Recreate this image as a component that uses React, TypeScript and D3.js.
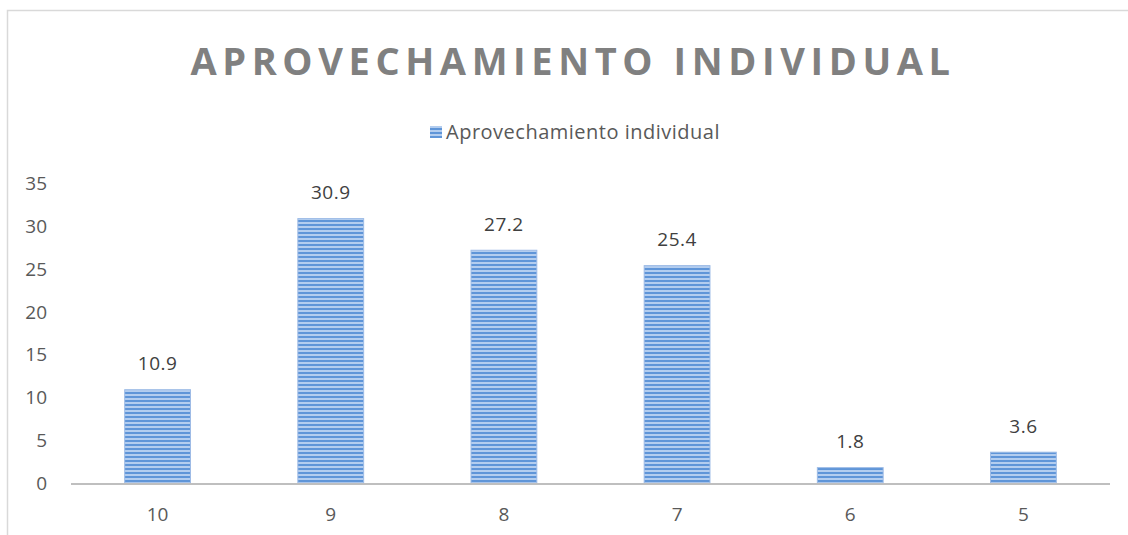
import { useEffect, useRef } from 'react';
import * as d3 from 'd3';

const categories = ['10', '9', '8', '7', '6', '5'];
const values = [10.9, 30.9, 27.2, 25.4, 1.8, 3.6];
const yTicks = [0, 5, 10, 15, 20, 25, 30, 35];
const seriesName = 'Aprovechamiento individual';
const chartTitle = 'APROVECHAMIENTO INDIVIDUAL';

export default function App() {
  const svgRef = useRef<SVGSVGElement>(null);
  const width = 1128;
  const height = 535;

  useEffect(() => {
    document.body.style.overflow = 'hidden';
    document.body.style.margin = '0';
    if (!svgRef.current) return;
    const svg = d3.select(svgRef.current);
    svg.selectAll('*').remove();

    const font = '"Open Sans", Calibri, sans-serif';

    // stripe pattern for bars
    const defs = svg.append('defs');
    const pat = defs.append('pattern')
      .attr('id', 'stripes')
      .attr('patternUnits', 'userSpaceOnUse')
      .attr('width', 8)
      .attr('height', 4);
    pat.append('rect').attr('width', 8).attr('height', 4).attr('fill', '#b3cdef');
    pat.append('rect').attr('y', 0).attr('width', 8).attr('height', 2).attr('fill', '#5f95d8');

    // outer frame
    svg.append('rect')
      .attr('x', 7.5)
      .attr('y', 10.5)
      .attr('width', 1140)
      .attr('height', 540)
      .attr('fill', 'white')
      .attr('stroke', '#d9d9d9')
      .attr('stroke-width', 1.5);

    const x = d3.scaleBand()
      .domain(categories)
      .range([71, 1110])
      .paddingInner(0.62)
      .paddingOuter(0.31);

    const y = d3.scaleLinear()
      .domain([0, 35])
      .range([483, 183.5]);

    // title
    svg.append('text')
      .attr('x', 573)
      .attr('y', 75)
      .attr('text-anchor', 'middle')
      .style('font-family', font)
      .style('font-size', '38px')
      .style('font-weight', 'bold')
      .style('letter-spacing', '5.6px')
      .style('fill', '#808080')
      .text(chartTitle);

    // legend
    svg.append('rect')
      .attr('x', 430)
      .attr('y', 126)
      .attr('width', 12)
      .attr('height', 12)
      .attr('fill', 'url(#stripes)');
    svg.append('text')
      .attr('x', 446)
      .attr('y', 132)
      .attr('dy', '0.35em')
      .style('font-family', font)
      .style('font-size', '20px')
      .style('letter-spacing', '0.5px')
      .style('fill', '#595959')
      .text(seriesName);

    // y axis labels
    svg.append('g')
      .selectAll('text')
      .data(yTicks)
      .enter().append('text')
      .attr('x', 47)
      .attr('y', d => y(d))
      .attr('dy', '0.35em')
      .attr('text-anchor', 'end')
      .style('font-family', font)
      .style('font-size', '19px')
      .style('fill', '#595959')
      .text(d => d);

    const data = categories.map((c, i) => ({ c, v: values[i] }));

    // bars
    svg.append('g')
      .selectAll('rect')
      .data(data)
      .enter().append('rect')
      .attr('x', d => x(d.c)!)
      .attr('y', d => y(d.v))
      .attr('width', x.bandwidth())
      .attr('height', d => y(0) - y(d.v))
      .attr('fill', 'url(#stripes)')
      .attr('stroke', '#9dbbe6')
      .attr('stroke-width', 1);

    // value labels
    svg.append('g')
      .selectAll('text')
      .data(data)
      .enter().append('text')
      .attr('x', d => x(d.c)! + x.bandwidth() / 2)
      .attr('y', d => y(d.v) - 26)
      .attr('dy', '0.35em')
      .attr('text-anchor', 'middle')
      .style('font-family', font)
      .style('font-size', '19px')
      .style('letter-spacing', '0.5px')
      .style('fill', '#404040')
      .text(d => d.v.toFixed(1));

    // x axis line
    svg.append('line')
      .attr('x1', 71)
      .attr('x2', 1110)
      .attr('y1', y(0) + 1)
      .attr('y2', y(0) + 1)
      .attr('stroke', '#bfbfbf')
      .attr('stroke-width', 2);

    // x labels
    svg.append('g')
      .selectAll('text')
      .data(categories)
      .enter().append('text')
      .attr('x', d => x(d)! + x.bandwidth() / 2)
      .attr('y', 514)
      .attr('dy', '0.35em')
      .attr('text-anchor', 'middle')
      .style('font-family', font)
      .style('font-size', '19px')
      .style('fill', '#595959')
      .text(d => d);
  }, []);

  return (
    <div style={{ position: 'absolute', left: 0, top: 0 }}>
      <svg ref={svgRef} width={width} height={height} style={{ display: 'block' }} />
    </div>
  );
}
